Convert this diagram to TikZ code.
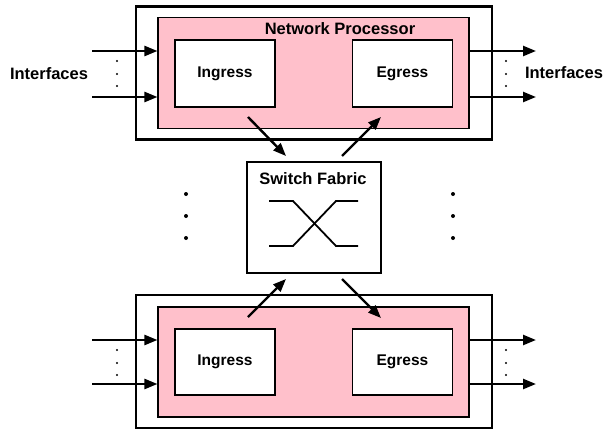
\documentclass[tikz,border=0pt]{standalone}
\usepackage{fontspec}
\setmainfont{Liberation Sans}
\usetikzlibrary{arrows.meta}
\definecolor{npink}{HTML}{FFC0CB}
\begin{document}
\begin{tikzpicture}[x=1pt,y=-1pt,
  lbl/.style={font=\fontsize{16.5}{19}\selectfont\bfseries, inner sep=0pt},
  outerbox/.style={draw, line width=2.8pt, minimum width=356pt, minimum height=133pt, inner sep=0pt},
  pinkbox/.style={draw, fill=npink, line width=1.1pt, minimum width=311pt, minimum height=111pt, inner sep=0pt},
  unitbox/.style={draw, fill=white, line width=1.1pt, minimum width=100pt, minimum height=67pt, inner sep=0pt,
    font=\fontsize{15.5}{18}\selectfont\bfseries},
  fabricbox/.style={draw, fill=white, line width=1.1pt, minimum width=134pt, minimum height=111pt, inner sep=0pt},
  arr/.style={line width=2.4pt, -{Triangle[length=13pt,width=10pt]}},
  sdot/.style={fill, circle, inner sep=0pt, minimum size=2.2pt},
  bdot/.style={fill, circle, inner sep=0pt, minimum size=4pt}]
\useasboundingbox (0,0) rectangle (614,431);

% upper network processor
\node[outerbox] (ot) at (314,73) {};
\node[pinkbox] (pt) at (313.5,73) {};
\node[lbl] (npt) at (340,29) {Network Processor};
\node[unitbox] (igt) at (225,73.5) {Ingress\hspace{8pt}};
\node[unitbox] (egt) at (402.5,73.5) {Egress};

% lower network processor
\node[outerbox] (ob) at (314,361.5) {};
\node[pinkbox, minimum height=110pt] (pb) at (313.5,362) {};
\node[unitbox, minimum height=66pt] (igb) at (225,362) {Ingress\hspace{8pt}};
\node[unitbox, minimum height=66pt] (egb) at (402.5,362) {Egress};

% switch fabric
\node[fabricbox] (sf) at (314,217.5) {};
\node[lbl] (sft) at (313,179) {Switch Fabric};
\draw[line width=1.8pt] (269,201) -- (293,201) -- (336,246) -- (358,246);
\draw[line width=1.8pt] (269,246) -- (293,246) -- (336,201) -- (358,201);

% interface labels
\node[lbl] (ifl) at (49,74) {Interfaces};
\node[lbl] (ifr) at (564,73) {Interfaces};

% interface lines, upper
\coordinate (it1) at (92,51);
\coordinate (it2) at (92,97);
\coordinate (et1) at (536,51);
\coordinate (et2) at (536,97);
\draw[arr] (it1) -- (it1 -| pt.west);
\draw[arr] (it2) -- (it2 -| pt.west);
\draw[arr] (et1 -| pt.east) -- (et1);
\draw[arr] (et2 -| pt.east) -- (et2);

% interface lines, lower
\coordinate (ib1) at (92,340);
\coordinate (ib2) at (92,384);
\coordinate (eb1) at (536,340);
\coordinate (eb2) at (536,384);
\draw[arr] (ib1) -- (ib1 -| pb.west);
\draw[arr] (ib2) -- (ib2 -| pb.west);
\draw[arr] (eb1 -| pb.east) -- (eb1);
\draw[arr] (eb2 -| pb.east) -- (eb2);

% small dots between interface lines
\foreach \x in {117,506} {
  \foreach \y in {61,74,86,350,363,375} {
    \node[sdot] at (\x,\y) {};
  }
}

% dots between the processors
\foreach \x in {186,453} {
  \foreach \y in {194,216,238} {
    \node[bdot] at (\x,\y) {};
  }
}

% links to and from the fabric
\coordinate (a1) at (248,117);
\coordinate (a2) at (286,156);
\coordinate (b1) at (342,156);
\coordinate (b2) at (381,117);
\coordinate (c1) at (248,317);
\coordinate (c2) at (286,279);
\coordinate (d1) at (342,279);
\coordinate (d2) at (381,318);
\draw[arr] (a1) -- (a2);
\draw[arr] (b1) -- (b2);
\draw[arr] (c1) -- (c2);
\draw[arr] (d1) -- (d2);
\end{tikzpicture}
\end{document}
